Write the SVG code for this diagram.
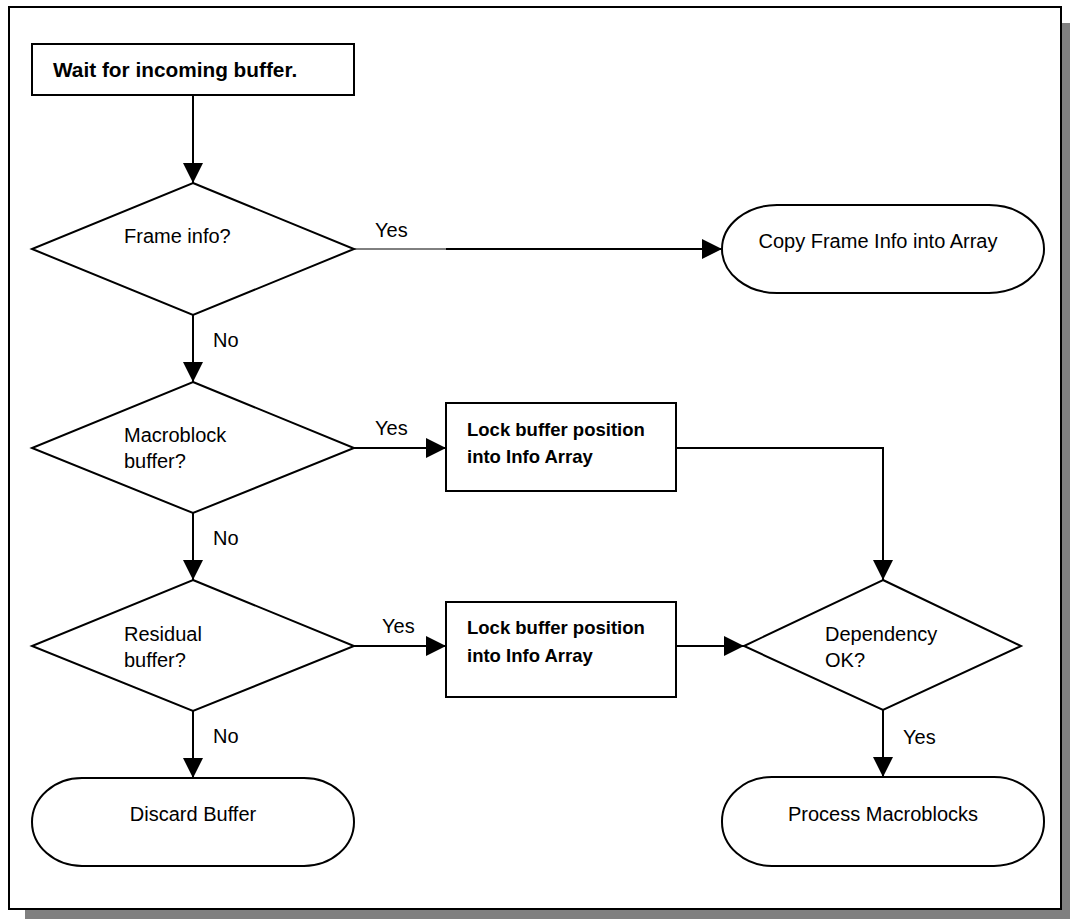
<svg xmlns="http://www.w3.org/2000/svg" width="1070" height="919" viewBox="0 0 1070 919">
<style>
.shape{fill:#fff;stroke:#000;stroke-width:2}
.t{font-family:"Liberation Sans",Arial,sans-serif;font-size:20px;fill:#000}
.b{font-family:"Liberation Sans",Arial,sans-serif;font-weight:bold;fill:#000}
.c{fill:none;stroke:#000;stroke-width:2}
</style>
<defs>
<marker id="ah" markerUnits="userSpaceOnUse" markerWidth="20" markerHeight="20" refX="20" refY="10" orient="auto" viewBox="0 0 20 20">
<path d="M0,0 L20,10 L0,20 z" fill="#000"/>
</marker>
</defs>
<rect x="0" y="0" width="1070" height="919" fill="#fff"/>
<g id="frame">
<rect x="25" y="23" width="1045" height="896" fill="#808080"/>
<rect x="9" y="7" width="1052" height="902" fill="#fff" stroke="#000" stroke-width="2"/>
</g>
<g id="connectors">
<line class="c" x1="193" y1="95" x2="193" y2="183" marker-end="url(#ah)"/>
<line x1="354" y1="249" x2="446" y2="249" stroke="#000" stroke-width="1"/>
<line class="c" x1="446" y1="249" x2="722" y2="249" marker-end="url(#ah)"/>
<line class="c" x1="193" y1="315" x2="193" y2="382" marker-end="url(#ah)"/>
<line class="c" x1="354" y1="448" x2="446" y2="448" marker-end="url(#ah)"/>
<line class="c" x1="193" y1="513" x2="193" y2="580" marker-end="url(#ah)"/>
<line class="c" x1="354" y1="646" x2="446" y2="646" marker-end="url(#ah)"/>
<line class="c" x1="193" y1="711" x2="193" y2="778" marker-end="url(#ah)"/>
<polyline class="c" points="676,448 883,448 883,580" marker-end="url(#ah)"/>
<line class="c" x1="676" y1="646" x2="744" y2="646" marker-end="url(#ah)"/>
<line class="c" x1="883" y1="710" x2="883" y2="777" marker-end="url(#ah)"/>
<text class="t" x="375" y="237">Yes</text>
<text class="t" x="213" y="347">No</text>
<text class="t" x="375" y="435">Yes</text>
<text class="t" x="213" y="545">No</text>
<text class="t" x="382" y="633">Yes</text>
<text class="t" x="213" y="743">No</text>
<text class="t" x="903" y="744">Yes</text>
</g>
<g id="start">
<rect class="shape" x="32" y="44" width="322" height="51"/>
<text class="b" x="53" y="77" font-size="20.8">Wait for incoming buffer.</text>
</g>
<g id="frameinfo">
<polygon class="shape" points="193,183 354,249 193,315 32,249"/>
<text class="t" x="124" y="243">Frame info?</text>
</g>
<g id="copyframe">
<rect class="shape" x="722" y="205" width="322" height="88" rx="55" ry="44"/>
<text class="t" x="878" y="248" text-anchor="middle">Copy Frame Info into Array</text>
</g>
<g id="macroblock">
<polygon class="shape" points="193,382 354,448 193,513 32,448"/>
<text class="t" x="124" y="442">Macroblock</text>
<text class="t" x="124" y="468">buffer?</text>
</g>
<g id="lock1">
<rect class="shape" x="446" y="403" width="230" height="88"/>
<text class="b" x="467" y="436" font-size="18.5">Lock buffer position</text>
<text class="b" x="467" y="463" font-size="18.5">into Info Array</text>
</g>
<g id="residual">
<polygon class="shape" points="193,580 354,646 193,711 32,646"/>
<text class="t" x="124" y="641">Residual</text>
<text class="t" x="124" y="667">buffer?</text>
</g>
<g id="lock2">
<rect class="shape" x="446" y="602" width="230" height="95"/>
<text class="b" x="467" y="634" font-size="18.5">Lock buffer position</text>
<text class="b" x="467" y="662" font-size="18.5">into Info Array</text>
</g>
<g id="dependency">
<polygon class="shape" points="883,580 1021,646 883,710 744,646"/>
<text class="t" x="825" y="641">Dependency</text>
<text class="t" x="825" y="667">OK?</text>
</g>
<g id="discard">
<rect class="shape" x="32" y="778" width="322" height="88" rx="50" ry="44"/>
<text class="t" x="193" y="821" text-anchor="middle">Discard Buffer</text>
</g>
<g id="process">
<rect class="shape" x="722" y="777" width="322" height="89" rx="50" ry="44"/>
<text class="t" x="883" y="821" text-anchor="middle">Process Macroblocks</text>
</g>
</svg>
